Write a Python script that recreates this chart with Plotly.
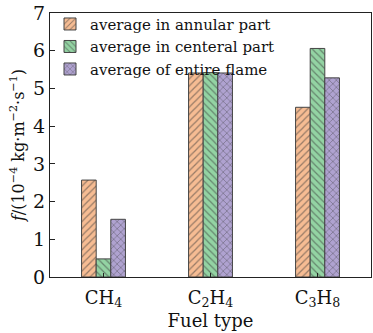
import plotly.graph_objects as go

fuels = ["CH<sub>4</sub>", "C<sub>2</sub>H<sub>4</sub>", "C<sub>3</sub>H<sub>8</sub>"]
series_names = ["average in annular part", "average in centeral part", "average of entire flame"]
annular = [2.57, 5.41, 4.50]
central = [0.48, 5.42, 6.06]
entire = [1.53, 5.41, 5.28]
y_ticks = [0, 1, 2, 3, 4, 5, 6, 7]

colors = ["#F6BC93", "#93D3A3", "#AFA2D0"]
shapes = ["/", "\\", "x"]
values = [annular, central, entire]

font = "DejaVu Serif"
fig = go.Figure()
for name, vals, col, shp in zip(series_names, values, colors, shapes):
    fig.add_trace(go.Bar(
        x=fuels, y=vals, name=name,
        marker=dict(color=col, line=dict(color="#444444", width=1),
                    pattern=dict(shape=shp, fgcolor="#3a3a3a", size=5, solidity=0.25)),
    ))

fig.update_layout(
    width=373, height=333,
    margin=dict(l=50, r=2, t=13, b=56),
    paper_bgcolor="white", plot_bgcolor="white",
    barmode="group", bargap=0.59, bargroupgap=0,
    font=dict(family=font, color="#111111"),
    legend=dict(x=0.0, y=1.02, xanchor="left", yanchor="top",
                bgcolor="rgba(0,0,0,0)", font=dict(size=15, family=font, color="#111111"),
                tracegroupgap=0, itemwidth=30),
    showlegend=True,
)
fig.update_xaxes(
    type="category", range=[-0.5, 2.5],
    showline=True, linecolor="#222222", linewidth=1.2, mirror=True,
    ticks="inside", ticklen=4, tickcolor="#222222",
    tickfont=dict(size=18, family=font), ticklabelstandoff=4,
    title=dict(text="Fuel type", font=dict(size=18, family=font), standoff=2),
    showgrid=False,
)
fig.update_yaxes(
    range=[0, 7], tickvals=y_ticks,
    showline=True, linecolor="#222222", linewidth=1.2, mirror=True,
    ticks="inside", ticklen=5, tickcolor="#222222",
    tickfont=dict(size=19, family=font),
    title=dict(text="<i>f</i>/(10<sup>−4</sup> kg·m<sup>−2</sup>·s<sup>−1</sup>)",
               font=dict(size=16, family=font), standoff=4),
    showgrid=False, zeroline=False,
)

fig.write_html("out.html")
